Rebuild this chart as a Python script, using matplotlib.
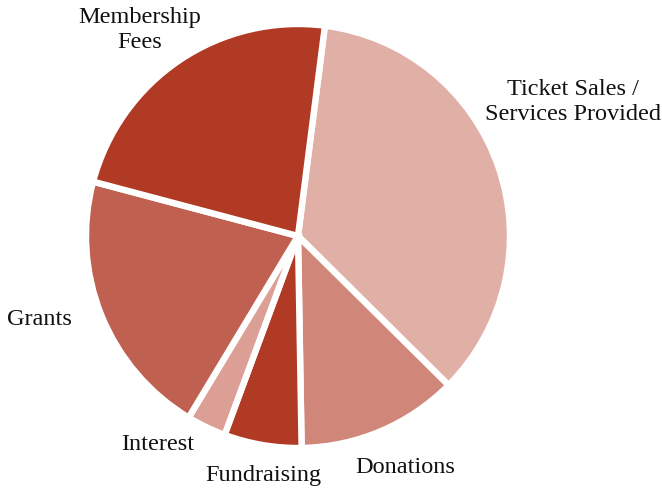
import matplotlib
matplotlib.use("Agg")
import matplotlib.pyplot as plt

categories = ["Ticket Sales /\nServices Provided", "Donations", "Fundraising",
              "Interest", "Grants", "Membership\nFees"]
values = [35.4, 12.3, 5.9, 3.0, 20.5, 22.9]
colors = ["#e0b0a6", "#d08678", "#b03a24", "#dc9f95", "#c06050", "#b03a24"]

W, H = 662, 489
fig = plt.figure(figsize=(W / 100, H / 100), dpi=100)
ax = fig.add_axes([0, 0, 1, 1])

cx, cy, r = 298, H - 237, 212
ax.pie(values, colors=colors, startangle=82.7, counterclock=False,
       center=(cx, cy), radius=r, frame=True,
       wedgeprops=dict(edgecolor="white", linewidth=4.6))
ax.set_xlim(0, W)
ax.set_ylim(0, H)
ax.set_aspect("equal")
ax.axis("off")

label_pos = [(573, 102), (405, 468), (263, 476), (158, 445), (39, 320), (140, 30)]
for lab, (x, y) in zip(categories, label_pos):
    ax.text(x, H - y, lab, ha="center", va="center", fontsize=17.5,
            family="Liberation Serif", color="#111111", linespacing=1.2)

fig.savefig("out.png", dpi=100)
